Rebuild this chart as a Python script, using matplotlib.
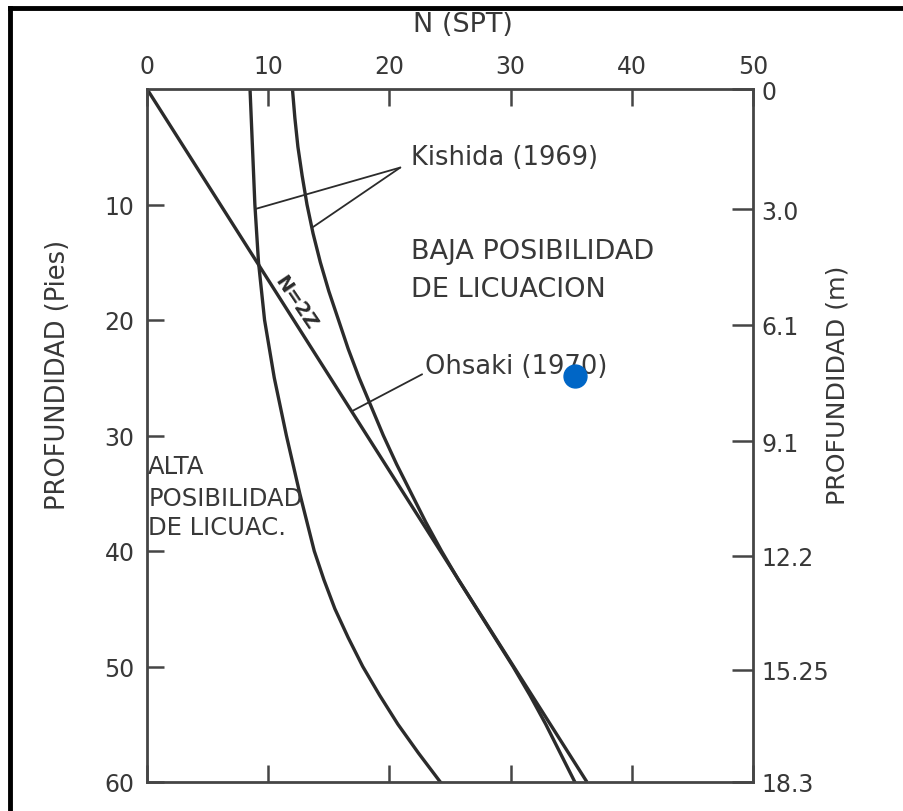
import matplotlib
matplotlib.use("Agg")
import matplotlib.pyplot as plt
from matplotlib.lines import Line2D

# ---------------- data ----------------
n_ticks = [0, 10, 20, 30, 40, 50]
n_tick_labels = ["0", "10", "20", "30", "40", "50"]
depth_ft_ticks = [10, 20, 30, 40, 50, 60]
depth_ft_labels = ["10", "20", "30", "40", "50", "60"]
depth_m_tick_pos_ft = [0, 10.4, 20.4, 30.5, 40.4, 50.3, 60]
depth_m_labels = ["0", "3.0", "6.1", "9.1", "12.2", "15.25", "18.3"]

# Ohsaki (1970): N = 2Z (Z in m)
ohsaki_depth_ft = [0, 60]
ohsaki_N = [0, 36.3]

# Kishida (1969) lower bound curve
kishida_lo_depth_ft = [0, 2.5, 5, 7.5, 10, 12.5, 15, 17.5, 20, 22.5, 25, 27.5, 30, 32.5,
                       35, 37.5, 40, 42.5, 45, 47.5, 50, 52.5, 55, 57.5, 60]
kishida_lo_N = [8.5, 8.6, 8.7, 8.8, 8.9, 9.05, 9.2, 9.45, 9.7, 10.1, 10.5, 11.0, 11.5, 12.05,
                12.6, 13.2, 13.8, 14.6, 15.5, 16.6, 17.8, 19.2, 20.7, 22.4, 24.2]

# Kishida (1969) upper bound curve
kishida_hi_depth_ft = [0, 2.5, 5, 7.5, 10, 12.5, 15, 17.5, 20, 22.5, 25, 27.5, 30, 32.5,
                       35, 37.5, 40, 42.5, 45, 47.5, 50, 52.5, 55, 57.5, 60]
kishida_hi_N = [12.0, 12.2, 12.45, 12.8, 13.2, 13.7, 14.3, 15.0, 15.8, 16.6, 17.5, 18.5, 19.5,
                20.6, 21.8, 23.0, 24.3, 25.7, 27.2, 28.7, 30.2, 31.6, 32.9, 34.1, 35.3]

# blue marker present in the reference
dot_N = [35.3]
dot_depth_ft = [24.85]

# ---------------- figure ----------------
W, H = 904, 812
fig = plt.figure(figsize=(W / 100, H / 100), dpi=100)
fig.patch.set_facecolor("white")

x0, x1, y0, y1 = 147, 753, 90, 783
ax = fig.add_axes([x0 / W, 1 - y1 / H, (x1 - x0) / W, (y1 - y0) / H])
ax.set_xlim(0, 50)
ax.set_ylim(60, 0)
ax.set_facecolor("white")

txt = "#383838"
linec = "#2b2b2b"
spc = "#454545"
fs_tick = 17

for s in ax.spines.values():
    s.set_color(spc)
    s.set_linewidth(2.0)

# top axis (N)
ax.xaxis.tick_top()
ax.set_xticks(n_ticks)
ax.set_xticklabels(n_tick_labels)
ax.tick_params(axis="x", which="both", top=True, bottom=True, labeltop=True,
               labelbottom=False, direction="in", length=12, width=1.8,
               color=spc, labelsize=fs_tick, labelcolor=txt, pad=8)

# left axis (feet)
ax.set_yticks(depth_ft_ticks)
ax.set_yticklabels(depth_ft_labels)
ax.tick_params(axis="y", left=True, right=False, direction="in", length=12,
               width=1.8, color=spc, labelsize=fs_tick, labelcolor=txt, pad=9)

# right axis (metres)
ax2 = ax.twinx()
ax2.set_ylim(60, 0)
ax2.set_yticks(depth_m_tick_pos_ft)
ax2.set_yticklabels(depth_m_labels)
ax2.tick_params(axis="y", right=True, direction="in", length=15, width=1.8,
                color=spc, labelsize=fs_tick, labelcolor=txt, pad=6)
for s in ax2.spines.values():
    s.set_visible(False)

# curves
lw = 2.4
ax.plot(ohsaki_N, ohsaki_depth_ft, color=linec, lw=lw, solid_capstyle="butt")
ax.plot(kishida_lo_N, kishida_lo_depth_ft, color=linec, lw=lw)
ax.plot(kishida_hi_N, kishida_hi_depth_ft, color=linec, lw=lw)
ax.plot(dot_N, dot_depth_ft, "o", color="#0066c6", markersize=16.5, zorder=5)

# leader lines
lead = dict(arrowstyle="-", color=linec, lw=1.3, shrinkA=0, shrinkB=0)
ax.annotate("", xy=(8.9, 10.4), xytext=(20.9, 6.8), arrowprops=lead)
ax.annotate("", xy=(13.7, 11.95), xytext=(20.9, 6.8), arrowprops=lead)
ax.annotate("", xy=(16.9, 27.9), xytext=(22.7, 24.7), arrowprops=lead)

ax.text(21.8, 5.9, "Kishida (1969)", fontsize=18.5, color=txt, va="center", ha="left")
ax.text(21.8, 14.0, "BAJA POSIBILIDAD", fontsize=19.5, color=txt, va="center", ha="left")
ax.text(21.8, 17.3, "DE LICUACION", fontsize=19.5, color=txt, va="center", ha="left")
ax.text(22.9, 24.0, "Ohsaki (1970)", fontsize=18.5, color=txt, va="center", ha="left")
ax.text(0.1, 32.6, "ALTA", fontsize=17.5, color=txt, va="center", ha="left")
ax.text(0.1, 35.4, "POSIBILIDAD", fontsize=17.5, color=txt, va="center", ha="left")
ax.text(0.1, 37.9, "DE LICUAC.", fontsize=17.5, color=txt, va="center", ha="left")
ax.text(12.3, 18.4, "N=2Z", fontsize=14, color=linec, va="center", ha="center",
        rotation=-56, rotation_mode="anchor", fontweight="bold")

# axis titles
fig.text(463 / W, 1 - 25 / H, "N (SPT)", fontsize=19.5, color=txt, ha="center", va="center")
fig.text(58 / W, 1 - 375 / H, "PROFUNDIDAD (Pies)", fontsize=18.5, color=txt,
         ha="center", va="center", rotation=90)
fig.text(838 / W, 1 - 385 / H, "PROFUNDIDAD (m)", fontsize=18.2, color=txt,
         ha="center", va="center", rotation=90)

# outer scan frame (top and left black bars)
fig.add_artist(Line2D([10 / W, 1.0], [1 - 9 / H, 1 - 9 / H], transform=fig.transFigure,
                      color="black", lw=3.5))
fig.add_artist(Line2D([10 / W, 10 / W], [0, 1 - 9 / H], transform=fig.transFigure,
                      color="black", lw=3.5))

fig.savefig("out.png", dpi=100, facecolor="white")
